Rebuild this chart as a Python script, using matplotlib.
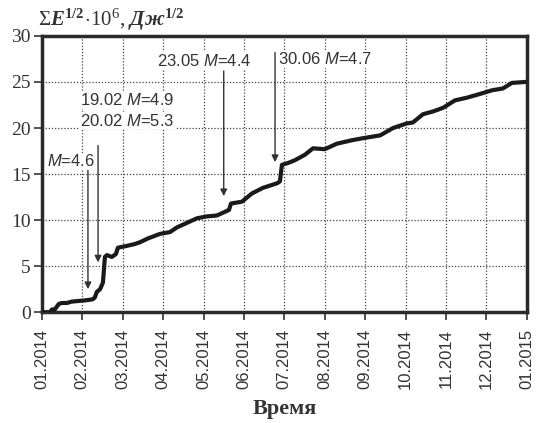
"""Cumulative Benioff strain curve for 2014 with marked strong events."""

import matplotlib
matplotlib.use("Agg")
import matplotlib.pyplot as plt
import numpy as np

matplotlib.rcParams.update({
    "font.family": "Liberation Sans",
    "mathtext.fontset": "custom",
    "mathtext.rm": "Liberation Serif",
    "mathtext.it": "Liberation Sans:italic",
    "mathtext.bf": "Liberation Serif:bold",
    "mathtext.bfit": "Liberation Serif:bold:italic",
})

# ── Data (x = months since 01.2014) ─────────────────────────────────────
months = [0.00, 0.20, 0.25, 0.32, 0.42, 0.50, 0.62, 0.74, 0.87, 0.99,
          1.11, 1.26, 1.31, 1.36, 1.44, 1.51, 1.56, 1.61, 1.73, 1.83,
          1.88, 2.10, 2.30, 2.43, 2.62, 2.92, 3.17, 3.34, 3.59, 3.84,
          4.08, 4.33, 4.58, 4.63, 4.68, 4.95, 5.20, 5.47, 5.82, 5.89,
          5.94, 6.09, 6.26, 6.51, 6.71, 7.00, 7.30, 7.70, 7.95, 8.37,
          8.69, 9.03, 9.18, 9.43, 9.68, 9.93, 10.22, 10.52, 10.84, 11.14,
          11.41, 11.63, 11.96]
benioff = [0.0, 0.0, 0.3, 0.3, 0.9, 1.0, 1.0, 1.15, 1.2, 1.25,
           1.3, 1.4, 1.6, 2.2, 2.5, 3.2, 6.0, 6.2, 6.0, 6.3,
           7.0, 7.2, 7.4, 7.6, 8.0, 8.5, 8.7, 9.2, 9.7, 10.2,
           10.4, 10.5, 11.0, 11.1, 11.8, 12.0, 12.9, 13.5, 14.0, 14.2,
           16.0, 16.2, 16.5, 17.1, 17.8, 17.7, 18.3, 18.7, 18.9, 19.2,
           20.0, 20.5, 20.6, 21.5, 21.8, 22.2, 23.0, 23.3, 23.7, 24.1,
           24.3, 24.9, 25.0]

tick_labels = ["01.2014", "02.2014", "03.2014", "04.2014", "05.2014",
               "06.2014", "07.2014", "08.2014", "09.2014", "10.2014",
               "11.2014", "12.2014", "01.2015"]

# (arrow x, arrow top, arrow tip) in data coords
arrows = [(1.14, 15.4, 2.5), (1.39, 18.1, 5.4), (4.50, 26.2, 12.6), (5.77, 28.2, 16.3)]
labels = [
    (0.12, 16.4, "$\\mathit{M}$=4.6"),
    (0.95, 23.0, "19.02 $\\mathit{M}$=4.9"),
    (0.95, 20.8, "20.02 $\\mathit{M}$=5.3"),
    (2.85, 27.3, "23.05 $\\mathit{M}$=4.4"),
    (5.85, 27.5, "30.06 $\\mathit{M}$=4.7"),
]

fig = plt.figure(figsize=(5.37, 4.23), dpi=100)
ax = fig.add_axes([0.078, 0.262, 0.903, 0.653])

ax.plot(months, benioff, color="#1a1a1a", linewidth=3.0, solid_joinstyle="round",
        zorder=3)

for x, y0, y1 in arrows:
    ax.annotate("", xy=(x, y1), xytext=(x, y0),
                arrowprops=dict(arrowstyle="-|>", color="#333333", lw=1.0,
                                mutation_scale=10, shrinkA=0, shrinkB=0),
                zorder=4)

for x, y, s in labels:
    ax.text(x, y, s, fontsize=12, color="#333333", ha="left", va="center",
            bbox=dict(facecolor="white", edgecolor="none", pad=0.5), zorder=5)

ax.set_xlim(0, 12)
ax.set_ylim(0, 30)
ax.set_xticks(np.arange(13))
ax.set_xticklabels(tick_labels, rotation=90, fontsize=12, color="#333333")
ax.set_yticks(np.arange(0, 31, 5))
ax.set_yticklabels([str(v) for v in range(0, 31, 5)], fontsize=14,
                   family="Liberation Serif", color="#333333")
ax.tick_params(direction="out", length=6, width=1.2, color="#333333")
ax.tick_params(axis="x", pad=6)
ax.tick_params(axis="y", pad=2)

ax.grid(True, linestyle=(0, (1, 1.5)), color="#444444", linewidth=0.9)
for spine in ax.spines.values():
    spine.set_linewidth(2.5)
    spine.set_color("#2a2a2a")

ax.set_xlabel("Время", fontsize=16, fontweight="bold", family="Liberation Serif",
              color="#333333", labelpad=7)
fig.text(0.07, 0.938,
         "$\\Sigma\\mathbfit{E}^{\\mathbf{1/2}}\\!\\cdot\\!10^6$, "
         "$\\mathbfit{Дж}^{\\mathbf{1/2}}$",
         fontsize=15, family="Liberation Serif", color="#333333", va="baseline")

fig.savefig("out.png", dpi=100)
